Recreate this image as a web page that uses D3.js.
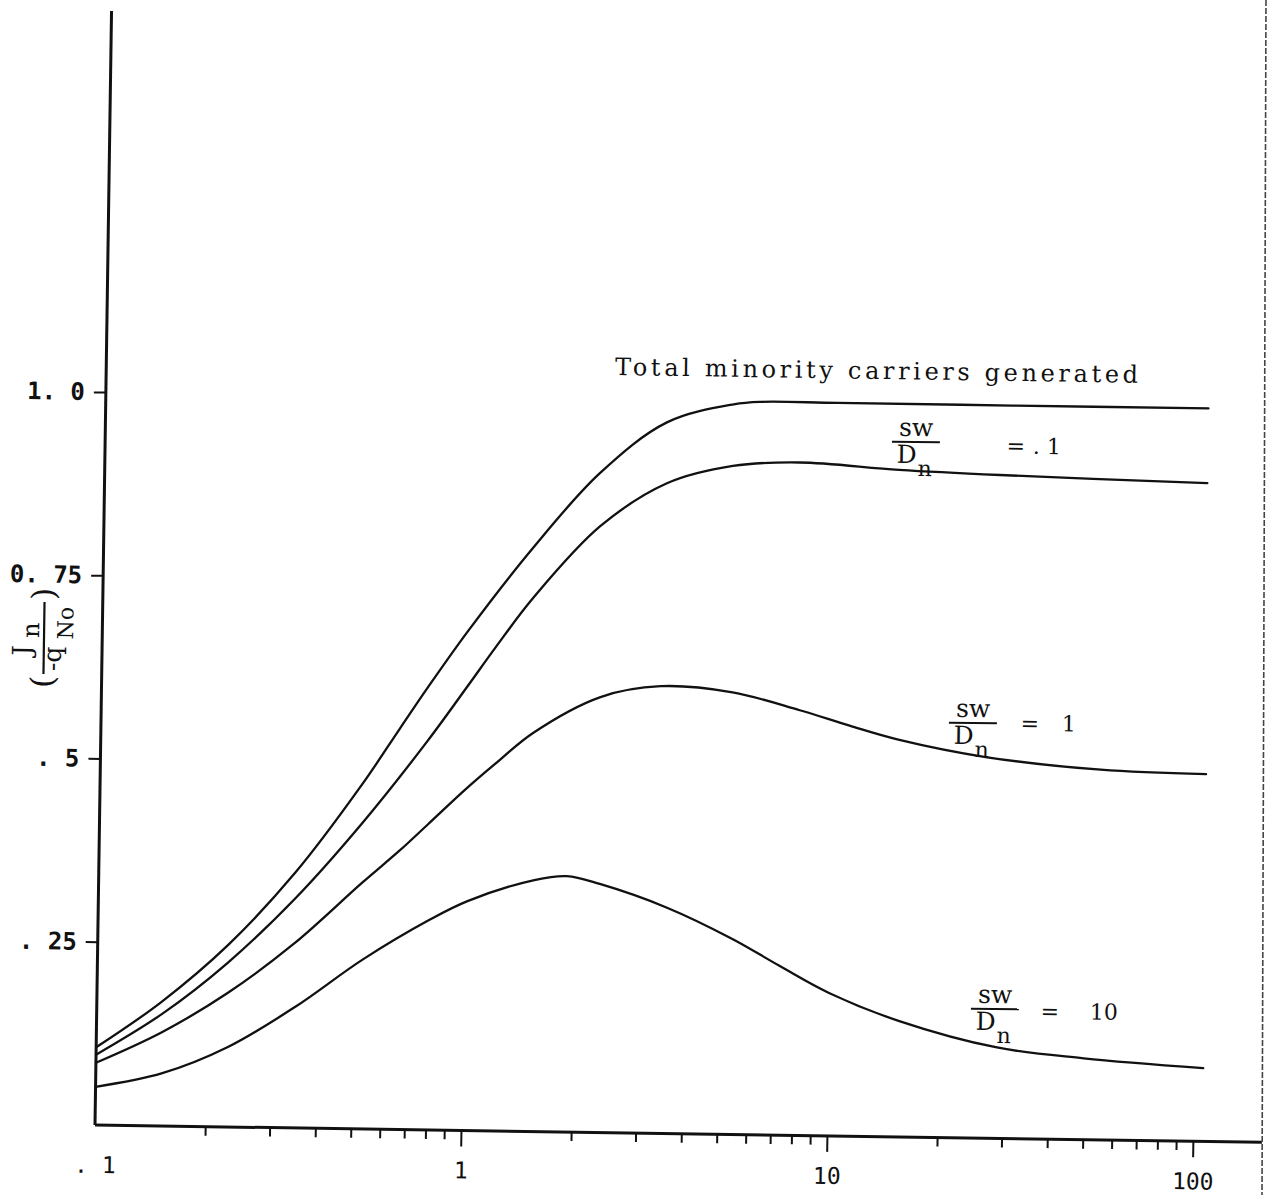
<!DOCTYPE html>
<html>
<head>
<meta charset="utf-8">
<script src="https://cdn.jsdelivr.net/npm/d3@7"></script>
<style>
body { margin: 0; background: #fff; }
svg { display: block; background: #fff; }
.curve { fill: none; stroke: #111; stroke-width: 2.3; stroke-linecap: round; }
.ann { font-family: "DejaVu Serif", serif; fill: #111; }
</style>
</head>
<body>
<svg id="chart" width="1268" height="1195"></svg>
<script>
// --- data ---
// x: log axis .1 .. 100, y: Jn / (-q No)
const totalX = [0.1, 0.15, 0.227, 0.344, 0.52, 0.656, 0.78, 1.0, 1.49, 2.25, 3.42, 5.2, 6.2, 10, 30, 103];
const totalY = [0.106, 0.169, 0.248, 0.348, 0.470, 0.547, 0.604, 0.682, 0.796, 0.899, 0.970, 0.996, 1.0, 1.0, 1.0, 1.0];

const s01X = [0.1, 0.151, 0.227, 0.345, 0.52, 0.78, 1.0, 1.19, 1.5, 2.27, 3.44, 5.2, 7.9, 14.8, 27.9, 103];
const s01Y = [0.096, 0.153, 0.224, 0.313, 0.416, 0.530, 0.606, 0.660, 0.728, 0.827, 0.887, 0.912, 0.918, 0.910, 0.905, 0.898];

const s1X = [0.1, 0.151, 0.228, 0.345, 0.525, 0.664, 0.79, 1.0, 1.2, 1.52, 2.31, 3.37, 5.3, 8.1, 11.1, 15.1, 26.2, 54.1, 105];
const s1Y = [0.085, 0.128, 0.183, 0.252, 0.336, 0.381, 0.417, 0.466, 0.501, 0.544, 0.594, 0.610, 0.603, 0.580, 0.560, 0.542, 0.520, 0.505, 0.501];

const s10X = [0.1, 0.152, 0.229, 0.348, 0.53, 0.80, 1.02, 1.55, 1.90, 2.34, 3.58, 5.4, 7.3, 10.0, 15.6, 28.9, 49.9, 106];
const s10Y = [0.052, 0.072, 0.109, 0.165, 0.231, 0.286, 0.313, 0.343, 0.349, 0.339, 0.308, 0.267, 0.231, 0.195, 0.158, 0.124, 0.111, 0.100];

const yTicks = [0.25, 0.5, 0.75, 1.0];
const yTickLabels = [". 25", ". 5", "0. 75", "1. 0"];
const xMajor = [0.1, 1, 10, 100];
const xMajorLabels = [". 1", "1", "10", "100"];
const xMinor = [];
[0.1, 1, 10].forEach(function (dec) {
    for (let k = 2; k <= 9; k++) xMinor.push(+(k * dec).toPrecision(3));
});

const series = [
    { xs: totalX, ys: totalY },
    { xs: s01X, ys: s01Y },
    { xs: s1X, ys: s1Y },
    { xs: s10X, ys: s10Y }
];

// --- layout ---
const tilt = 0.85;      // the scan is slightly rotated
const ox = 95, oy = 1125;

const svg = d3.select("#chart");

const x = d3.scaleLog().domain([0.1, 100]).range([ox, ox + 1098]);
const y = d3.scaleLinear().domain([0, 1]).range([oy, 392]);

const g = svg.append("g")
    .attr("transform", "rotate(" + tilt + "," + ox + "," + oy + ")");

// axis lines
g.append("line")
    .attr("x1", ox).attr("y1", y(0))
    .attr("x2", ox).attr("y2", y(1.52))
    .attr("stroke", "#111").attr("stroke-width", 3);

g.append("line")
    .attr("x1", ox).attr("y1", oy)
    .attr("x2", ox + 1167).attr("y2", oy)
    .attr("stroke", "#111").attr("stroke-width", 3);

// x ticks
const xAxis = g.append("g")
    .attr("transform", "translate(0," + oy + ")")
    .call(d3.axisBottom(x)
        .tickValues(xMinor.concat(xMajor))
        .tickSize(9)
        .tickFormat(function (d) {
            const i = xMajor.indexOf(d);
            return i >= 0 ? xMajorLabels[i] : "";
        }));

xAxis.select(".domain").remove();
xAxis.selectAll(".tick line")
    .attr("stroke", "#111")
    .attr("stroke-width", 2)
    .attr("y2", function (d) {
        if (d === 0.1) return 0;
        return xMajor.indexOf(d) >= 0 ? 16 : 9;
    });
xAxis.selectAll(".tick text")
    .attr("y", 48)
    .attr("dy", 0)
    .attr("fill", "#111")
    .style("font-family", "'DejaVu Sans Mono', monospace")
    .style("font-size", "23px");

// y ticks
const yAxis = g.append("g")
    .attr("transform", "translate(" + ox + ",0)")
    .call(d3.axisLeft(y)
        .tickValues(yTicks)
        .tickSize(12)
        .tickPadding(9)
        .tickFormat(function (d, i) { return yTickLabels[i]; }));

yAxis.select(".domain").remove();
yAxis.selectAll(".tick line").attr("stroke", "#111").attr("stroke-width", 2);
yAxis.selectAll(".tick text")
    .attr("fill", "#111")
    .style("font-family", "'DejaVu Sans Mono', monospace")
    .style("font-weight", "bold")
    .style("font-size", "24px");

// curves
const line = d3.line()
    .x(function (d) { return x(d[0]); })
    .y(function (d) { return y(d[1]); })
    .curve(d3.curveCatmullRom.alpha(0.5));

g.selectAll(".curve")
    .data(series)
    .enter().append("path")
    .attr("class", "curve")
    .attr("d", function (s) {
        return line(s.xs.map(function (v, i) { return [v, s.ys[i]]; }));
    });

// --- annotations (placed in page coords, tilted like the scan) ---
function tiltAt(px, py) {
    return "rotate(" + tilt + "," + px + "," + py + ")";
}

svg.append("text")
    .attr("class", "ann")
    .attr("x", 615).attr("y", 375)
    .attr("transform", tiltAt(615, 375))
    .attr("textLength", 523)
    .attr("lengthAdjust", "spacing")
    .style("font-size", "24px")
    .text("Total minority carriers generated");

// fraction labels sw / Dn = value
const fracLabels = [
    { cx: 916, base: 436, value: ". 1", eqX: 1016, valX: 1033, valY: 452 },
    { cx: 973, base: 717, value: "1", eqX: 1030, valX: 1062, valY: 730 },
    { cx: 995, base: 1003, value: "10", eqX: 1050, valX: 1090, valY: 1018 }
];

fracLabels.forEach(function (f) {
    const lg = svg.append("g").attr("transform", tiltAt(f.cx, f.base));
    lg.append("text").attr("class", "ann")
        .attr("x", f.cx).attr("y", f.base)
        .attr("text-anchor", "middle")
        .style("font-size", "25px")
        .text("sw");
    lg.append("line")
        .attr("x1", f.cx - 24).attr("x2", f.cx + 24)
        .attr("y1", f.base + 6).attr("y2", f.base + 6)
        .attr("stroke", "#111").attr("stroke-width", 2);
    lg.append("text").attr("class", "ann")
        .attr("x", f.cx - 19).attr("y", f.base + 27)
        .style("font-size", "25px")
        .text("D");
    lg.append("text").attr("class", "ann")
        .attr("x", f.cx + 2).attr("y", f.base + 40)
        .style("font-size", "22px")
        .text("n");
    lg.append("text").attr("class", "ann")
        .attr("x", f.eqX).attr("y", f.valY)
        .attr("text-anchor", "middle")
        .style("font-size", "22px")
        .text("=");
    lg.append("text").attr("class", "ann")
        .attr("x", f.valX).attr("y", f.valY)
        .style("font-size", "22px")
        .text(f.value);
});

// y axis title: ( Jn / -qNo ) rotated
const yt = svg.append("g")
    .attr("transform", "translate(42,638) rotate(" + (-90 + tilt) + ")")
    .style("font-family", "'DejaVu Serif', serif")
    .attr("fill", "#111");

yt.append("text").attr("x", -50).attr("y", 12).style("font-size", "32px").text("(");
yt.append("text").attr("x", -18).attr("y", -11).style("font-size", "26px").text("J");
yt.append("text").attr("x", 0).attr("y", -3).style("font-size", "24px").text("n");
yt.append("line")
    .attr("x1", -36).attr("x2", 36).attr("y1", 2).attr("y2", 2)
    .attr("stroke", "#111").attr("stroke-width", 2.2);
yt.append("text").attr("x", -33).attr("y", 19).style("font-size", "25px").text("-q");
yt.append("text").attr("x", -1).attr("y", 31).style("font-size", "22px").text("No");
yt.append("text").attr("x", 38).attr("y", 12).style("font-size", "32px").text(")");

// page edge of the scan
svg.append("line")
    .attr("x1", 1266).attr("y1", 0)
    .attr("x2", 1262).attr("y2", 1195)
    .attr("stroke", "#444")
    .attr("stroke-width", 1.6)
    .attr("stroke-dasharray", "6,2");
</script>
</body>
</html>
